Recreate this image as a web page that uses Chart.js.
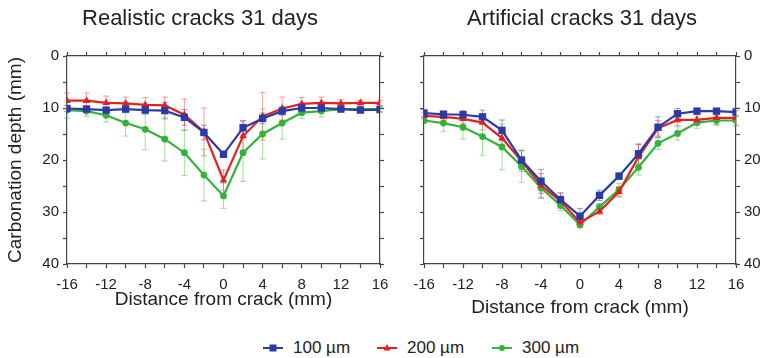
<!DOCTYPE html>
<html>
<head>
<meta charset="utf-8">
<script src="https://cdn.jsdelivr.net/npm/chart.js@4/dist/chart.umd.min.js"></script>
<style>
  body { margin: 0; background: #fff; width: 764px; height: 358px; overflow: hidden; position: relative; }
  canvas { position: absolute; top: 0; }
  #legend { position: absolute; top: 336px; left: 0; font: 17px "Liberation Sans", Arial, sans-serif; color: #222; }
  .item { position: absolute; white-space: nowrap; height: 24px; line-height: 24px; }
  .item svg { position: absolute; top: 6px; }
  .item span { position: absolute; }
</style>
</head>
<body>
<canvas id="realistic" width="400" height="330" style="left:0px"></canvas>
<canvas id="artificial" width="364" height="330" style="left:400px"></canvas>
<div id="legend">
  <div class="item" style="left:262px">
    <svg width="22" height="12"><line x1="1" y1="6" x2="21" y2="6" stroke="#2b3aa6" stroke-width="2"/><rect x="7.5" y="2.5" width="7" height="7" fill="#2b3aa6"/></svg>
    <span style="left:31px">100 µm</span>
  </div>
  <div class="item" style="left:376px">
    <svg width="22" height="12"><line x1="1" y1="6" x2="21" y2="6" stroke="#e3221f" stroke-width="2"/><polygon points="11,2 14.5,8.5 7.5,8.5" fill="#e3221f"/></svg>
    <span style="left:31px">200 µm</span>
  </div>
  <div class="item" style="left:491px">
    <svg width="22" height="12"><line x1="1" y1="6" x2="21" y2="6" stroke="#35b23a" stroke-width="2"/><circle cx="11" cy="6" r="3" fill="#35b23a"/></svg>
    <span style="left:31px">300 µm</span>
  </div>
</div>
<script>
// distance from the crack, mm
const distance = [-16, -14, -12, -10, -8, -6, -4, -2, 0, 2, 4, 6, 8, 10, 12, 14, 16];

// realistic cracks, carbonation depth (mm) and error
const real100 = [10.1, 10.2, 10.4, 10.2, 10.4, 10.5, 11.8, 14.7, 18.9, 13.8, 12.0, 10.6, 10.0, 10.0, 10.2, 10.4, 10.3];
const real100Err = [0.6, 0.6, 0.5, 0.7, 0.8, 1.6, 1.5, 1.4, 0.5, 1.4, 1.0, 0.8, 0.6, 0.6, 0.5, 0.5, 0.5];
const real200 = [8.6, 8.6, 9.0, 9.1, 9.4, 9.5, 11.3, 14.6, 23.9, 15.4, 11.6, 10.1, 9.2, 9.0, 9.1, 9.0, 9.0];
const real200Err = [1.5, 1.5, 1.3, 1.2, 1.4, 1.6, 3.0, 4.6, 2.0, 2.8, 4.6, 2.2, 1.2, 1.1, 0.7, 0.5, 0.5];
const real300 = [10.4, 10.6, 11.4, 12.9, 14.1, 16.0, 18.6, 22.9, 26.9, 18.6, 15.0, 12.9, 10.9, 10.6, 10.2, 10.2, 10.2];
const real300Err = [1.6, 1.0, 1.3, 2.5, 3.9, 4.2, 4.4, 5.0, 2.4, 5.5, 4.8, 3.1, 1.1, 1.1, 0.5, 0.5, 0.5];

// artificial cracks
const art100 = [11.0, 11.2, 11.3, 11.7, 14.3, 20.0, 24.1, 27.6, 30.8, 26.8, 23.1, 18.8, 13.7, 11.1, 10.6, 10.6, 10.8];
const art100Err = [0.7, 0.6, 0.8, 1.3, 2.0, 1.8, 2.3, 1.3, 1.5, 1.0, 0.6, 1.8, 2.0, 1.0, 0.5, 0.5, 0.8];
const art200 = [11.5, 11.7, 12.1, 12.8, 15.8, 20.2, 24.9, 27.9, 32.0, 29.9, 26.1, 19.4, 13.9, 12.3, 12.3, 11.9, 11.9];
const art200Err = [0.6, 0.6, 0.8, 1.4, 1.5, 2.0, 2.3, 1.4, 0.6, 0.6, 1.0, 2.5, 1.5, 1.1, 1.0, 1.3, 1.4];
const art300 = [12.4, 12.9, 13.7, 15.5, 17.5, 21.2, 25.4, 28.7, 32.5, 29.0, 25.7, 21.4, 16.8, 14.9, 12.8, 12.4, 12.4];
const art300Err = [0.5, 1.6, 2.3, 3.6, 4.4, 3.1, 2.0, 1.0, 0.5, 0.6, 1.2, 1.5, 1.2, 1.3, 1.1, 0.9, 1.0];

const BLUE = '#2b3aa6';
const RED = '#e3221f';
const GREEN = '#35b23a';
const AXIS = '#444';
const FONT = '"Liberation Sans", Arial, sans-serif';

Chart.defaults.font.family = FONT;
Chart.defaults.color = '#222';

// vertical error bars with caps, drawn under the lines
const errorBars = {
  id: 'errorBars',
  beforeDatasetsDraw(chart) {
    const {ctx} = chart;
    const yScale = chart.scales.y;
    ctx.save();
    chart.data.datasets.forEach((ds, i) => {
      const meta = chart.getDatasetMeta(i);
      ctx.strokeStyle = ds.errColor;
      ctx.lineWidth = 1;
      meta.data.forEach((pt, j) => {
        const v = ds.data[j].y, e = ds.errors[j];
        const y1 = yScale.getPixelForValue(v - e);
        const y2 = yScale.getPixelForValue(v + e);
        ctx.beginPath();
        ctx.moveTo(pt.x, y1); ctx.lineTo(pt.x, y2);
        ctx.moveTo(pt.x - 3, y1); ctx.lineTo(pt.x + 3, y1);
        ctx.moveTo(pt.x - 3, y2); ctx.lineTo(pt.x + 3, y2);
        ctx.stroke();
      });
    });
    ctx.restore();
  }
};

function series(values, errors, color, errColor, shape, radius) {
  return {
    data: values.map((v, i) => ({x: distance[i], y: v})),
    errors: errors,
    errColor: errColor,
    borderColor: color,
    backgroundColor: color,
    borderWidth: 2.2,
    pointStyle: shape,
    pointRadius: radius,
    pointBorderWidth: 0,
    tension: 0
  };
}

function tickGrid() {
  return { drawOnChartArea: false, drawTicks: true, tickLength: 4, color: AXIS, tickWidth: 1.2 };
}

// fixed axis sizes so both panels line up
function sized(prop, val) {
  return s => { s[prop] = val; };
}

function makeChart(id, title, sets, opts) {
  const tickFont = {size: 15};
  const titleFont = {size: 19};
  return new Chart(document.getElementById(id), {
    type: 'line',
    data: { datasets: sets },
    options: {
      responsive: false,
      animation: false,
      layout: { padding: 0 },
      plugins: {
        legend: { display: false },
        tooltip: { enabled: false },
        title: {
          display: true, text: title, color: '#222',
          font: {size: 22, weight: 'normal'},
          padding: {top: 6, bottom: 0}
        }
      },
      scales: {
        x: {
          type: 'linear', position: 'bottom', min: -16, max: 16,
          grid: tickGrid(),
          border: {color: AXIS, width: 1.2},
          ticks: {
            stepSize: 2, autoSkip: false, maxRotation: 0, padding: 8,
            font: tickFont, color: '#222',
            callback: v => (v % 4 === 0 ? String(v) : '')
          },
          title: {
            display: true, text: 'Distance from crack (mm)', color: '#222',
            font: titleFont, padding: {top: 0, bottom: opts.xTitlePad}
          },
          afterFit: sized('height', opts.bottomH)
        },
        xTop: {
          type: 'linear', position: 'top', min: -16, max: 16,
          grid: tickGrid(),
          border: {color: AXIS, width: 1.2},
          ticks: { stepSize: 2, autoSkip: false, display: false },
          afterFit: sized('height', 23.6)
        },
        y: {
          type: 'linear', position: opts.yLabelSide === 'left' ? 'left' : 'right',
          reverse: true, min: 0, max: 40,
          grid: tickGrid(),
          border: {color: AXIS, width: 1.2},
          ticks: {
            stepSize: 5, autoSkip: false, padding: 4,
            font: tickFont, color: '#222',
            callback: v => (v % 10 === 0 ? String(v) : '')
          },
          title: {
            display: opts.yLabelSide === 'left', text: 'Carbonation depth (mm)', color: '#222',
            font: titleFont, padding: {top: 4, bottom: 0}
          },
          afterFit: sized('width', opts.yLabelSide === 'left' ? opts.leftW : opts.rightW)
        },
        yOther: {
          type: 'linear', position: opts.yLabelSide === 'left' ? 'right' : 'left',
          reverse: true, min: 0, max: 40,
          grid: tickGrid(),
          border: {color: AXIS, width: 1.2},
          ticks: { stepSize: 5, autoSkip: false, display: false },
          afterFit: sized('width', opts.yLabelSide === 'left' ? opts.rightW : opts.leftW)
        }
      }
    },
    plugins: [errorBars]
  });
}

function panelSets(a, aErr, b, bErr, c, cErr) {
  return [
    series(a, aErr, BLUE, 'rgba(60,80,200,0.55)', 'rect', 5.2),
    series(b, bErr, RED, 'rgba(235,60,60,0.5)', 'triangle', 4.4),
    series(c, cErr, GREEN, 'rgba(70,190,70,0.5)', 'circle', 3.4)
  ];
}

makeChart('realistic', 'Realistic cracks 31 days',
  panelSets(real100, real100Err, real200, real200Err, real300, real300Err),
  {yLabelSide: 'left', leftW: 67, rightW: 20, bottomH: 66, xTitlePad: 19});

makeChart('artificial', 'Artificial cracks 31 days',
  panelSets(art100, art100Err, art200, art200Err, art300, art300Err),
  {yLabelSide: 'right', leftW: 24, rightW: 28, bottomH: 66, xTitlePad: 11});
</script>
</body>
</html>
